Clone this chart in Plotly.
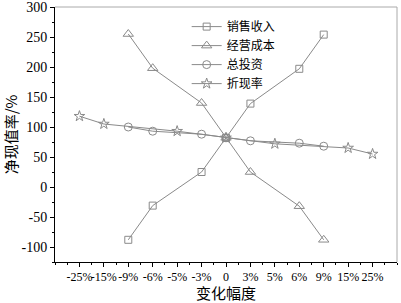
import plotly.graph_objects as go

tick_labels = ["-25%", "-15%", "-9%", "-6%", "-5%", "-3%", "0", "3%", "5%", "6%", "9%", "15%", "25%"]
y_ticks = [-100, -50, 0, 50, 100, 150, 200, 250, 300]

sales_x = ["-9%", "-6%", "-3%", "0", "3%", "6%", "9%"]
sales_y = [-88, -31, 25, 82, 139, 197, 254]

cost_x = ["-9%", "-6%", "-3%", "0", "3%", "6%", "9%"]
cost_y = [255, 198, 140, 82, 25, -32, -88]

invest_x = ["-9%", "-6%", "-3%", "0", "3%", "6%", "9%"]
invest_y = [100, 93, 88, 82, 77, 73, 68]

rate_x = ["-25%", "-15%", "-5%", "0", "5%", "15%", "25%"]
rate_y = [118, 105, 93, 82, 72, 65, 55]

def pos(labels):
    return [tick_labels.index(l) + 1 for l in labels]

GRAY = "#8a8a8a"
SERIF = "Liberation Serif, Noto Sans CJK SC, serif"
CJK = "Noto Sans CJK SC"

fig = go.Figure()
series = [
    ("销售收入", sales_x, sales_y, "square-open", 7),
    ("经营成本", cost_x, cost_y, "triangle-up-open", 9),
    ("总投资", invest_x, invest_y, "circle-open", 8),
    ("折现率", rate_x, rate_y, "star-open", 8),
]
for name, xs, ys, sym, sz in series:
    fig.add_trace(go.Scatter(
        x=pos(xs), y=ys, name=name, mode="lines+markers",
        line=dict(color=GRAY, width=1),
        marker=dict(symbol=sym, size=sz, color=GRAY, line=dict(color=GRAY, width=1)),
    ))

fig.update_layout(
    width=401, height=303,
    margin=dict(l=55, r=4, t=7, b=41),
    paper_bgcolor="white", plot_bgcolor="white",
    font=dict(family=SERIF, color="black", size=13),
    showlegend=True,
    legend=dict(x=0.385, y=0.98, xanchor="left", yanchor="top",
                bgcolor="rgba(0,0,0,0)", borderwidth=0,
                font=dict(size=12, family=SERIF),
                tracegroupgap=0, itemwidth=30),
)
fig.update_xaxes(
    range=[0, 14], automargin=False,
    tickmode="array", tickvals=list(range(1, 14)), ticktext=tick_labels,
    tickangle=0, ticklabeloverflow="allow",
    ticks="outside", ticklen=4, tickcolor="black", tickwidth=1,
    minor=dict(ticks="outside", ticklen=2, tickcolor="black", dtick=0.5, tick0=0),
    showline=True, linecolor="black", linewidth=1, mirror=False,
    showgrid=False, zeroline=False,
    tickfont=dict(size=12, family=SERIF),
    title=dict(text="变化幅度", font=dict(size=15, family=CJK), standoff=2),
)
fig.update_yaxes(
    range=[-125, 300], automargin=False,
    tickmode="array", tickvals=y_ticks, ticktext=[str(v) for v in y_ticks],
    ticklabeloverflow="allow",
    ticks="outside", ticklen=4, tickcolor="black", tickwidth=1,
    minor=dict(ticks="outside", ticklen=2, tickcolor="black", dtick=25, tick0=0),
    showline=True, linecolor="black", linewidth=1,
    showgrid=False, zeroline=False,
    tickfont=dict(size=14, family=SERIF),
    title=dict(text="净现值率/%", font=dict(size=15, family=CJK), standoff=2),
)
# light gray top/right frame
fig.add_shape(type="line", xref="paper", yref="paper", x0=0, x1=1, y0=1, y1=1,
              line=dict(color="#aaaaaa", width=1))
fig.add_shape(type="line", xref="paper", yref="paper", x0=1, x1=1, y0=0, y1=1,
              line=dict(color="#aaaaaa", width=1))
fig.write_html("out.html", post_script="document.body.style.margin='0';",
               config={"displayModeBar": False})
